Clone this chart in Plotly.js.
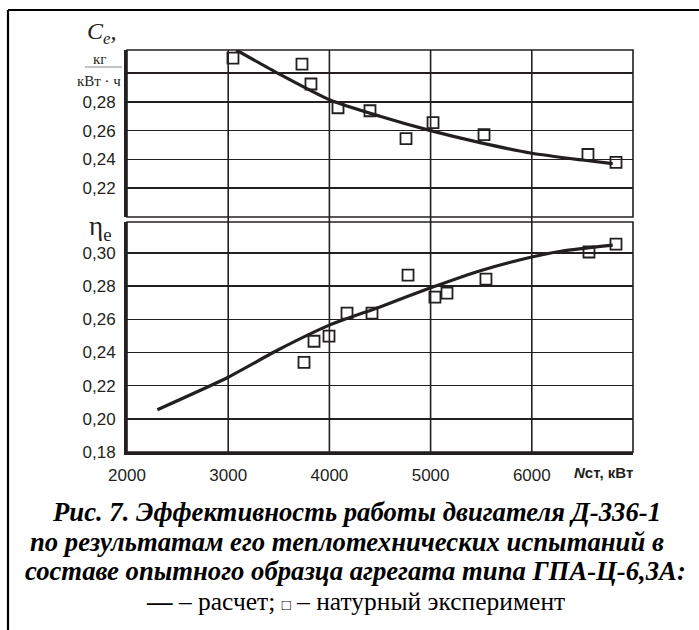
<!DOCTYPE html>
<html>
<head>
<meta charset="utf-8">
<script src="https://cdn.plot.ly/plotly-3.0.1.min.js"></script>
<style>html,body{margin:0;padding:0;background:#fff;}#chart{width:699px;height:630px;}</style>
</head>
<body>
<div id="chart"></div>
<script>
// ---- data ----
const xTickVals = [2000, 3000, 4000, 5000, 6000, 7000];
const xTickText = ['2000', '3000', '4000', '5000', '6000', ' '];

const ceTickVals = [0.20, 0.22, 0.24, 0.26, 0.28, 0.30];
const ceTickText = [' ', '0,22', '0,24', '0,26', '0,28', ' '];
const etaTickVals = [0.18, 0.20, 0.22, 0.24, 0.26, 0.28, 0.30];
const etaTickText = ['0,18', '0,20', '0,22', '0,24', '0,26', '0,28', '0,30'];

// specific fuel consumption Ce, kg/(kW*h)
const ceCalcN = [3080, 3500, 4000, 4500, 5000, 5500, 6000, 6500, 6800];
const ceCalc  = [0.3160, 0.2995, 0.2815, 0.2700, 0.2600, 0.2515, 0.2443, 0.2396, 0.2371];
const ceExpN  = [3047, 3729, 3818, 4085, 4401, 4757, 5024, 5528, 6555, 6832];
const ceExp   = [0.3103, 0.3062, 0.2924, 0.2759, 0.2738, 0.2545, 0.2655, 0.2572, 0.2434, 0.2380];

// effective efficiency eta_e
const etaCalcN = [2300, 3000, 3500, 4000, 4500, 5000, 5500, 6000, 6300, 6800];
const etaCalc  = [0.2055, 0.2251, 0.2418, 0.2565, 0.2675, 0.2790, 0.2895, 0.2976, 0.3012, 0.3048];
const etaExpN  = [3749, 3848, 3996, 4174, 4421, 4777, 5043, 5162, 5547, 6565, 6832];
const etaExp   = [0.2341, 0.2468, 0.2499, 0.2637, 0.2637, 0.2867, 0.2734, 0.2758, 0.2843, 0.3006, 0.3054];

// ---- layout helpers ----
const W = 699, H = 630;
const M = {l: 127, r: 66, t: 50, b: 178};
const PW = W - M.l - M.r, PH = H - M.t - M.b;
const px = p => (p - M.l) / PW;
const py = p => (H - M.b - p) / PH;
const ink = '#231f20';

const lineStyle = {color: ink, width: 3.2, shape: 'spline', smoothing: 0.6};
const markStyle = {symbol: 'square-open', size: 11, color: ink, line: {color: ink, width: 1.8}};

const traces = [
  {x: ceCalcN, y: ceCalc, xaxis: 'x2', yaxis: 'y2', mode: 'lines', line: lineStyle, hoverinfo: 'skip'},
  {x: ceExpN, y: ceExp, xaxis: 'x2', yaxis: 'y2', mode: 'markers', marker: markStyle, cliponaxis: false},
  {x: etaCalcN, y: etaCalc, xaxis: 'x', yaxis: 'y', mode: 'lines', line: lineStyle, hoverinfo: 'skip'},
  {x: etaExpN, y: etaExp, xaxis: 'x', yaxis: 'y', mode: 'markers', marker: markStyle, cliponaxis: false}
];

const sans = 'Liberation Sans';
const serif = 'Liberation Serif, DejaVu Serif';
const tickFont = {family: sans, size: 17, color: ink};

const yTopBottom = 217, yBotTop = 222;

const shapes = [];
// vertical grid lines through both panels
xTickVals.slice(1, -1).forEach(v => shapes.push({
  type: 'line', xref: 'x', yref: 'paper', x0: v, x1: v, y0: 0, y1: 1,
  line: {color: ink, width: 1.6}, layer: 'below'
}));
// panel borders
shapes.push({type: 'rect', xref: 'x2 domain', yref: 'y2 domain', x0: 0, x1: 1, y0: 0, y1: 1, line: {color: ink, width: 1.6}});
shapes.push({type: 'rect', xref: 'x domain', yref: 'y domain', x0: 0, x1: 1, y0: 0, y1: 1, line: {color: ink, width: 1.6}});
// outer frame (top and left)
shapes.push({type: 'line', xref: 'paper', yref: 'paper', x0: px(8), x1: px(699), y0: py(10), y1: py(10), line: {color: '#000', width: 2.2}});
shapes.push({type: 'line', xref: 'paper', yref: 'paper', x0: px(8), x1: px(8), y0: py(10), y1: py(630), line: {color: '#000', width: 2.2}});
// fraction bar of unit
shapes.push({type: 'line', xref: 'paper', yref: 'paper', x0: px(85), x1: px(122), y0: py(67), y1: py(67), line: {color: '#8a8a8a', width: 1}});

const ann = (text, x, y, font, extra) => Object.assign({
  text, xref: 'paper', yref: 'paper', x: px(x), y: py(y), xanchor: 'center', yanchor: 'middle',
  showarrow: false, font
}, extra || {});

const capFont = {family: serif, size: 26.7, color: '#000', weight: 'bold', style: 'italic'};
const annotations = [
  ann('C<sub>e</sub>,', 101, 33, {family: serif, size: 24, color: ink, style: 'italic'}),
  ann('кг', 99, 59, {family: serif, size: 15, color: ink}),
  ann('кВт · ч', 99, 81, {family: serif, size: 15, color: ink}),
  ann('η<sub>e</sub>', 100, 228, {family: serif, size: 27, color: ink}),
  ann('<b><i>N</i>ст, кВт</b>', 603, 472, {family: sans, size: 15, color: ink}),
  ann('Рис. 7. Эффективность работы двигателя Д-336-1', 356, 512, capFont),
  ann('по результатам его теплотехнических испытаний в', 347, 542, capFont),
  ann('составе опытного образца агрегата типа ГПА-Ц-6,3А:', 355, 571, capFont),
  ann('<b>—</b> – расчет; <span style="font-size:15px">□</span> – натурный эксперимент', 355, 601, {family: serif, size: 25.5, color: '#000'})
];

const layout = {
  width: W, height: H,
  margin: M,
  paper_bgcolor: '#fff', plot_bgcolor: '#fff',
  showlegend: false,
  xaxis: {
    domain: [0, 1], range: [2000, 7000], anchor: 'y',
    tickmode: 'array', tickvals: xTickVals, ticktext: xTickText,
    showgrid: false, zeroline: false, ticks: '',
    showline: true, linewidth: 3, linecolor: ink,
    tickfont: tickFont, ticklabelstandoff: 6
  },
  yaxis: {
    domain: [0, py(yBotTop)], range: [0.18, 0.3187], anchor: 'x',
    tickmode: 'array', tickvals: etaTickVals, ticktext: etaTickText,
    showgrid: true, gridcolor: ink, gridwidth: 1.6, zeroline: false, ticks: '',
    showline: true, linewidth: 3, linecolor: ink,
    tickfont: tickFont, ticklabelstandoff: 5
  },
  xaxis2: {
    domain: [0, 1], range: [2000, 7000], anchor: 'y2', matches: 'x',
    showticklabels: false, showgrid: false, zeroline: false, ticks: '', showline: false
  },
  yaxis2: {
    domain: [py(yTopBottom), 1], range: [0.20, 0.316], anchor: 'x2',
    tickmode: 'array', tickvals: ceTickVals, ticktext: ceTickText,
    showgrid: true, gridcolor: ink, gridwidth: 1.6, zeroline: false, ticks: '',
    showline: true, linewidth: 3, linecolor: ink,
    tickfont: tickFont, ticklabelstandoff: 5
  },
  shapes, annotations
};

Plotly.newPlot('chart', traces, layout, {staticPlot: true, displayModeBar: false});
</script>
</body>
</html>
